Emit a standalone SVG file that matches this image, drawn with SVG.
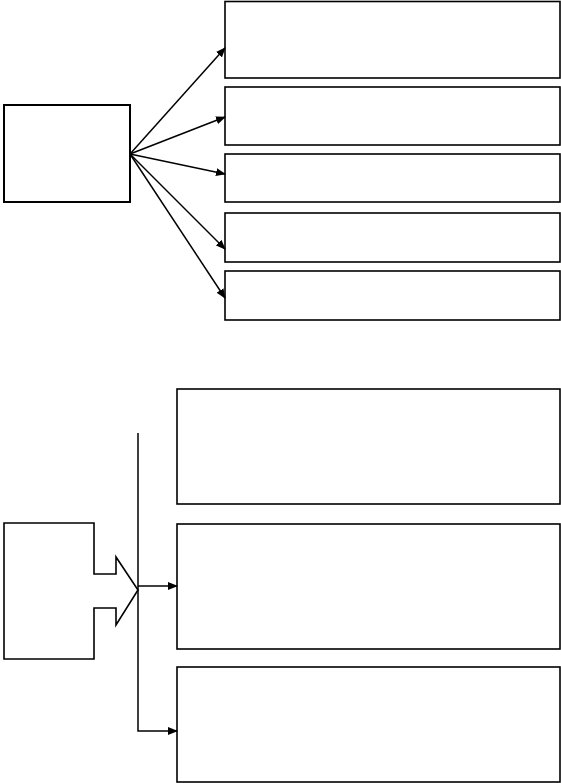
<svg xmlns="http://www.w3.org/2000/svg" width="561" height="783" viewBox="0 0 561 783">
<style>
.box{fill:#fff;stroke:#000;stroke-width:1.6}
.src{fill:#fff;stroke:#000;stroke-width:2}
.con{fill:none;stroke:#000;stroke-width:1.5}
</style>
<defs>
<marker id="ah" markerWidth="10" markerHeight="8" refX="9" refY="4" orient="auto" markerUnits="userSpaceOnUse">
<path d="M0,0 L10,4 L0,8 Z" fill="#000"/>
</marker>
</defs>
<rect width="561" height="783" fill="#fff"/>
<g id="src1"><rect class="src" x="4" y="105" width="126" height="97"/></g>
<g id="t1"><rect class="box" x="225" y="1.5" width="335" height="76.5"/></g>
<g id="t2"><rect class="box" x="225" y="87" width="335" height="58"/></g>
<g id="t3"><rect class="box" x="225" y="154" width="335" height="48"/></g>
<g id="t4"><rect class="box" x="225" y="213" width="335" height="49"/></g>
<g id="t5"><rect class="box" x="225" y="271" width="335" height="49"/></g>
<g id="src2"><path class="box" d="M4,523 L94,523 L94,574 L116,574 L116,557 L138,590 L116,625 L116,608 L94,608 L94,659 L4,659 Z"/></g>
<g id="bA"><rect class="box" x="177" y="389" width="383" height="115"/></g>
<g id="bB"><rect class="box" x="177" y="524" width="383" height="125"/></g>
<g id="bC"><rect class="box" x="177" y="667" width="383" height="115"/></g>
<g id="connectors">
<line class="con" x1="130" y1="154" x2="225" y2="48" marker-end="url(#ah)"/>
<line class="con" x1="130" y1="154" x2="225" y2="117" marker-end="url(#ah)"/>
<line class="con" x1="130" y1="154" x2="225" y2="174" marker-end="url(#ah)"/>
<line class="con" x1="130" y1="154" x2="225" y2="249" marker-end="url(#ah)"/>
<line class="con" x1="130" y1="154" x2="225" y2="298" marker-end="url(#ah)"/>
<polyline class="con" points="138,433 138,731 177,731" marker-end="url(#ah)"/>
<line class="con" x1="138" y1="586" x2="177" y2="586" marker-end="url(#ah)"/>
</g>
</svg>
